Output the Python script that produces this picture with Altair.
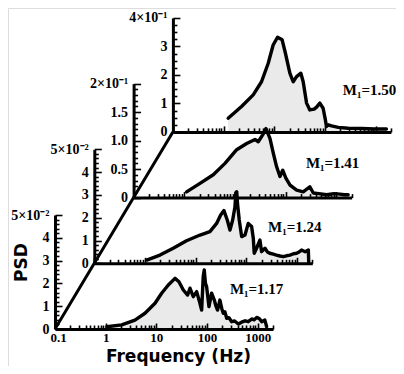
import altair as alt
import pandas as pd

# ---------------- data (PSD; units shown on each axis) -------------
mach_labels = ["M\u2081=1.17", "M\u2081=1.24", "M\u2081=1.41", "M\u2081=1.50"]
y_top = [5, 5, 2, 4]                      # axis top of each panel
y_top_text = ["5\u00d710\u207b\u00b2", "5\u00d710\u207b\u00b2", "2\u00d710\u207b\u00b9", "4\u00d710\u207b\u00b9"]
y_label_values = [[0, 1, 2, 3, 4, 5], [0, 1, 2, 3, 4, 5], [0, 0.5, 1, 1.5, 2], [0, 1, 2, 3, 4]]
y_minor_step = [0.2, 0.2, 0.1, 0.25]
y_major_step = [1, 1, 0.5, 1]

f_117 = [1.05, 2.07, 3.78, 5.96, 9.4, 12.7, 17.2, 23.3, 27.9, 34, 41.4, 46, 53.5, 62.4, 72.4,
         78.2, 84, 88, 93, 98, 109, 123, 139, 150, 161, 179, 195, 209, 225, 244, 270, 306,
         350, 415, 480, 563, 650, 760, 850, 955, 1080, 1200, 1380, 1500]
p_117 = [0.10, 0.18, 0.39, 0.69, 1.13, 1.57, 1.93, 2.22, 2.07, 1.71, 1.49, 1.79, 1.42, 1.64, 1.13,
         0.83, 2.3, 2.59, 2.0, 1.86, 0.98, 1.57, 1.27, 1.0, 0.83, 1.27, 0.9, 0.69, 0.75, 0.47, 0.5, 0.32,
         0.35, 0.22, 0.3, 0.36, 0.32, 0.44, 0.4, 0.51, 0.45, 0.32, 0.39, 0.10]

f_124 = [1.08, 1.98, 3.6, 6.6, 12.2, 19.1, 25.9, 31.1, 36.1, 42, 47.5, 53.7, 59.6, 62, 64.5, 67,
         72.4, 80.8, 94, 109, 127, 137, 143, 159, 185, 200, 233, 260, 290, 340, 392, 460, 535,
         620, 724, 850, 980, 1100, 1230, 1440, 1670, 1700]
p_124 = [0.14, 0.36, 0.66, 0.99, 1.24, 1.39, 1.75, 2.12, 2.31, 1.90, 1.46, 1.90, 2.48, 3.1, 3.14, 2.6,
         1.90, 1.17, 1.24, 1.75, 1.61, 1.10, 0.44, 0.66, 1.02, 0.51, 0.66, 0.5, 0.44, 0.4, 0.36, 0.32, 0.29,
         0.33, 0.36, 0.42, 0.44, 0.5, 0.58, 0.51, 0.58, 0.05]

f_141 = [1.11, 2.04, 3.73, 6.35, 10.8, 17.0, 24.8, 28.8, 35.2, 40.9, 49, 57, 66.4, 77.2, 87.5,
         101, 122, 165, 222, 300, 351, 450, 644, 900, 1175, 1450, 1710]
p_141 = [0.10, 0.25, 0.40, 0.60, 0.84, 0.95, 1.02, 0.98, 1.10, 1.21, 1.04, 0.78, 0.54, 0.37, 0.48,
         0.34, 0.22, 0.13, 0.10, 0.19, 0.08, 0.07, 0.05, 0.07, 0.06, 0.05, 0.05]

f_150 = [1.23, 2.26, 3.84, 5.6, 7.6, 9.5, 11.6, 14.3, 16.6, 20.3, 23.6, 27.5, 33.5, 37.2, 43.4,
         50.3, 61.2, 68.3, 79.3, 92, 102, 107, 116, 135, 183, 288, 528, 960, 1630]
p_150 = [0.48, 0.89, 1.30, 1.76, 2.41, 3.05, 3.32, 3.23, 2.76, 2.06, 1.76, 1.94, 2.06, 1.76, 1.01,
         0.77, 0.80, 0.87, 1.01, 0.83, 0.42, 0.19, 0.25, 0.21, 0.16, 0.13, 0.12, 0.10, 0.10]

# annotation anchors (data units of each panel)
label_freq = [282, 267, 251, 225]
label_psd = [1.75, 1.59, 0.61, 1.47]

freq_major = [0.1, 1, 10, 100, 1000]
freq_ticks = [round(m * 10 ** e, 6) for e in range(-1, 4) for m in range(1, 10) if m * 10 ** e <= 2000]

series_f = [f_117, f_124, f_141, f_150]
series_p = [p_117, p_124, p_141, p_150]

# ---------------- layout ----------------
W, H = 388, 358
OX = [47.0, 86.3, 125.6, 164.9]
OY = [321.0, 255.3, 189.6, 123.9]
PW, PH = 218, 114
SERIF = "Liberation Serif"
SANS = "DejaVu Sans"


def xs(k):
    return alt.Scale(type="log", domain=[0.1, 2000], range=[OX[k], OX[k] + PW], nice=False)


def ys(k):
    return alt.Scale(type="linear", domain=[0, y_top[k]], range=[OY[k], OY[k] - PH], nice=False, zero=False)


def y_label_axis(k):
    vals = y_label_values[k]
    if k == 2:
        expr = f"datum.value == 2 ? '{y_top_text[k]}' : (datum.value == 0 ? '0' : format(datum.value, '.1f'))"
    else:
        expr = f"datum.value == {y_top[k]} ? '{y_top_text[k]}' : format(datum.value, 'd')"
    kw = dict(orient="left", offset=-OX[k], values=vals, labelExpr=expr, ticks=False, tickSize=0,
              domain=True, domainColor="black", domainWidth=3, labelFont=SERIF, labelFontWeight="bold",
              labelFontSize=14, labelColor="black", labelPadding=6, labelOverlap=False, labelFlush=False,
              labelBound=False, grid=False, zindex=1)
    if k == 0:
        kw.update(title="PSD", titleFont=SANS, titleFontSize=17, titleFontWeight="bold", titleColor="black",
                  titleAngle=270, titleX=13 - OX[0], titleY=254, titleAlign="center", titleBaseline="middle")
    else:
        kw.update(title=None)
    return alt.Axis(**kw)


def y_tick_axis(k):
    step = y_minor_step[k]
    n = int(round(y_top[k] / step))
    vals = [round(i * step, 4) for i in range(n + 1)]
    maj = y_major_step[k]
    test = f"abs(datum.value / {maj} - round(datum.value / {maj})) < 0.001"
    return alt.Axis(orient="right", offset=OX[k] - W, values=vals, labels=False, domain=False,
                    tickColor="black", tickWidth=1.6,
                    tickSize={"condition": {"test": test, "value": 7}, "value": 4},
                    grid=False, title=None, zindex=1)


def x_tick_axis(k):
    test = "abs(log(datum.value) / LN10 - round(log(datum.value) / LN10)) < 0.001"
    return alt.Axis(orient="top", offset=-OY[k], values=freq_ticks, labels=False, domain=True,
                    domainColor="black", domainWidth=3, tickColor="black", tickWidth=1.6,
                    tickSize={"condition": {"test": test, "value": 6}, "value": 4},
                    grid=False, title=None, zindex=1)


x_label_axis = alt.Axis(orient="bottom", offset=OY[0] - H, values=freq_major,
                        labelExpr="datum.value < 1 ? '0.1' : format(datum.value, 'd')",
                        labelOffset={"condition": {"test": "datum.value < 1", "value": 3}, "value": 0},
                        ticks=False, tickSize=0, domain=False, labelFont=SERIF, labelFontWeight="bold",
                        labelFontSize=13, labelColor="black", labelPadding=2, labelOverlap=False,
                        labelFlush=False, labelBound=False, grid=False,
                        title="Frequency (Hz)", titleFont=SANS, titleFontSize=17, titleFontWeight="bold",
                        titleColor="black", titleX=170, titleY=32.5, titleAlign="center",
                        titleBaseline="alphabetic", zindex=1)

layers = []

# depth axis of the waterfall (joins the panel origins)
depth_df = pd.DataFrame({"depth": list(range(len(mach_labels))), "mach": mach_labels})
layers.append(
    alt.Chart(depth_df).mark_line(color="black", strokeWidth=3).encode(
        x=alt.X("depth:Q", scale=alt.Scale(domain=[0, 3], range=[OX[0], OX[3]], nice=False, zero=False), axis=None),
        y=alt.Y("depth:Q", scale=alt.Scale(domain=[0, 3], range=[OY[0], OY[3]], nice=False, zero=False), axis=None),
    )
)

for k in [3, 2, 1, 0]:
    df = pd.DataFrame({"freq": series_f[k], "psd": series_p[k]})
    area = alt.Chart(df).mark_area(color="#eaeaea").encode(
        x=alt.X("freq:Q", scale=xs(k), axis=x_tick_axis(k)),
        y=alt.Y("psd:Q", scale=ys(k), axis=y_label_axis(k)),
    )
    line = alt.Chart(df).mark_line(color="black", strokeWidth=3.4, strokeJoin="round", strokeCap="round").encode(
        x=alt.X("freq:Q", scale=xs(k), axis=x_label_axis if k == 0 else None),
        y=alt.Y("psd:Q", scale=ys(k), axis=y_tick_axis(k)),
    )
    ldf = pd.DataFrame({"freq": [label_freq[k]], "psd": [label_psd[k]], "text": [mach_labels[k]]})
    text = alt.Chart(ldf).mark_text(align="left", baseline="middle", font=SERIF, fontWeight="bold",
                                    fontSize=15, color="black").encode(
        x=alt.X("freq:Q", scale=xs(k), axis=None),
        y=alt.Y("psd:Q", scale=ys(k), axis=None),
        text="text:N",
    )
    layers += [area, line, text]

chart = alt.layer(*layers).resolve_scale(x="independent", y="independent").properties(
    width=W, height=H, autosize=alt.AutoSizeParams(type="none"), padding=0
).configure_view(stroke=None).configure(background="white")

chart.save("out.html", embed_options={"renderer": "svg", "actions": False})
